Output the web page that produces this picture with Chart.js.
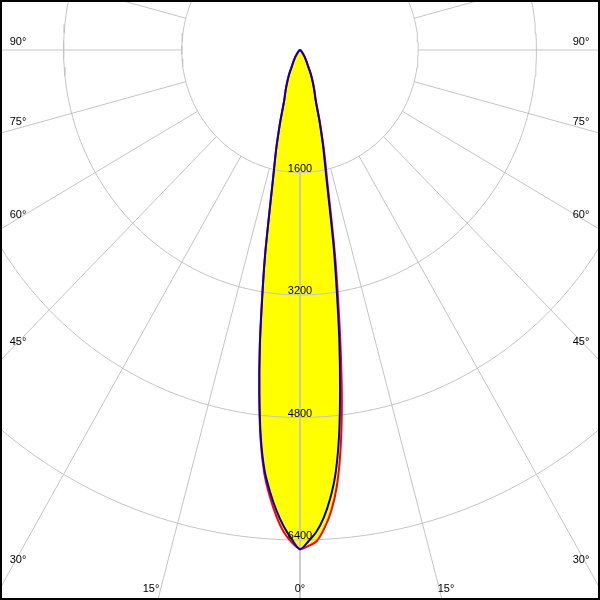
<!DOCTYPE html>
<html>
<head>
<meta charset="utf-8">
<script src="https://cdn.jsdelivr.net/npm/chart.js@4.4.1/dist/chart.umd.min.js"></script>
<style>
  html, body { margin: 0; padding: 0; background: #fff; }
  canvas { display: block; }
</style>
</head>
<body>
<canvas id="polarChart" width="600" height="600"></canvas>
<script>
// gamma angles (deg) for each half plane
const gammas = [0, 1, 2, 3, 4, 5, 6, 7, 8, 9, 10, 11, 12, 13, 14, 15, 16, 18, 20, 22, 25, 27, 30, 35, 40, 45, 50, 60, 70, 80, 90];

// intensities in cd
const c0   = [6520, 6480, 6420, 6260, 6040, 5720, 5250, 4650, 3960, 3300, 2740, 2200, 1800, 1545, 1335, 1135, 965, 695, 580, 478, 348, 252, 182, 111, 61, 36, 21, 8, 3, 1, 0];
const c180 = [6520, 6430, 6300, 6100, 5850, 5550, 5110, 4530, 3920, 3280, 2730, 2190, 1800, 1540, 1335, 1135, 965, 695, 580, 478, 348, 252, 182, 111, 61, 36, 21, 8, 3, 1, 0];
const c90  = [6520, 6420, 6300, 6120, 5870, 5540, 5060, 4450, 3820, 3180, 2640, 2110, 1730, 1480, 1290, 1100, 940, 680, 565, 470, 340, 250, 180, 110, 60, 35, 20, 8, 3, 1, 0];
const c270 = [6520, 6390, 6230, 6030, 5790, 5510, 5080, 4510, 3900, 3265, 2720, 2180, 1790, 1530, 1330, 1130, 960, 690, 575, 475, 345, 250, 180, 110, 60, 35, 20, 8, 3, 1, 0];

const ringValues = [1600, 3200, 4800, 6400];
const spokeAngles = [0, 15, 30, 45, 60, 75, 90, 105, 120, 135, 150, 165, 180, 195, 210, 225, 240, 255, 270, 285, 300, 315, 330, 345];
const sideTicks = ['90°', '75°', '60°', '45°', '30°'];
const bottomTicks = ['15°', '0°', '15°'];

const pxPerCd = 490 / 6400;
const xSquash = 0.965;
const gridColor = '#c4c4c4';

function toXY(gamma, value, side) {
  const a = gamma * Math.PI / 180;
  return { x: side * value * Math.sin(a), y: -value * Math.cos(a) };
}

function planeCurve(left, right) {
  const pts = [];
  for (let i = gammas.length - 1; i >= 0; i--) pts.push(toXY(gammas[i], left[i], -1));
  for (let i = 1; i < gammas.length; i++) pts.push(toXY(gammas[i], right[i], 1));
  return pts;
}

const fillLeft = c180.map((v, i) => Math.max(v, c270[i]));
const fillRight = c0.map((v, i) => Math.max(v, c90[i]));

const gridSets = [];
ringValues.forEach(v => {
  const pts = [];
  for (let a = 0; a <= 360; a += 2) pts.push(toXY(a, v, 1));
  gridSets.push({ data: pts, borderColor: gridColor, borderWidth: 1, order: 2 });
});
spokeAngles.forEach(a => {
  gridSets.push({ data: [toXY(a, ringValues[0], 1), toXY(a, 12000, 1)], borderColor: gridColor, borderWidth: 1, order: 2 });
});

const overlay = {
  id: 'overlay',
  afterDatasetsDraw(chart) {
    const { ctx, scales: { x, y } } = chart;
    ctx.save();
    ctx.fillStyle = '#000';
    ctx.font = '11px "Liberation Sans", Arial, sans-serif';
    ctx.textAlign = 'center';
    ctx.textBaseline = 'alphabetic';
    ringValues.forEach(v => {
      ctx.fillText(String(v), x.getPixelForValue(0), y.getPixelForValue(-v) - 1);
    });
    ctx.textBaseline = 'middle';
    const rows = [42, 122, 215, 342, 560];
    sideTicks.forEach((t, i) => {
      ctx.fillText(t, 18, rows[i]);
      ctx.fillText(t, 581, rows[i]);
    });
    const cols = [151, 300, 446];
    bottomTicks.forEach((t, i) => ctx.fillText(t, cols[i], 589));
    ctx.lineWidth = 2;
    ctx.strokeStyle = '#000';
    ctx.strokeRect(1, 1, chart.width - 2, chart.height - 2);
    ctx.restore();
  }
};

new Chart(document.getElementById('polarChart'), {
  type: 'scatter',
  data: {
    datasets: [
      { label: 'C90-C270', data: planeCurve(c270, c90), borderColor: '#0000cd', borderWidth: 2, tension: 0.3, order: 0 },
      { label: 'C0-C180', data: planeCurve(c180, c0), borderColor: '#ff0000', borderWidth: 2, tension: 0.3, order: 1 },
      ...gridSets,
      { label: 'fill', data: planeCurve(fillLeft, fillRight), borderWidth: 0, borderColor: 'rgba(0,0,0,0)', backgroundColor: '#ffff00', fill: 'shape', tension: 0.3, order: 3 }
    ]
  },
  options: {
    responsive: false,
    animation: false,
    events: [],
    showLine: true,
    elements: { point: { radius: 0 } },
    layout: { padding: 0 },
    plugins: { legend: { display: false }, tooltip: { enabled: false } },
    scales: {
      x: { type: 'linear', display: false, min: -300 / (pxPerCd * xSquash), max: 300 / (pxPerCd * xSquash) },
      y: { type: 'linear', display: false, min: -550 / pxPerCd, max: 50 / pxPerCd }
    }
  },
  plugins: [overlay]
});
</script>
</body>
</html>
